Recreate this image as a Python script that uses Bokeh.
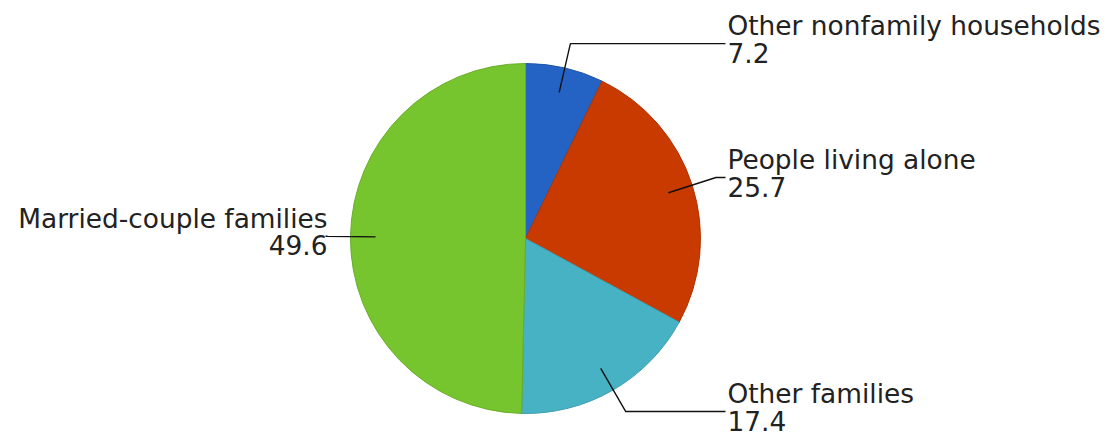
import math
from bokeh.plotting import figure
from bokeh.models import Range1d, ColumnDataSource
from bokeh.core.properties import value
from bokeh.embed import file_html
from bokeh.resources import INLINE

categories = ["Other nonfamily households", "People living alone", "Other families", "Married-couple families"]
values = [7.2, 25.7, 17.4, 49.6]
value_labels = ["7.2", "25.7", "17.4", "49.6"]
colors = ["#2462C4", "#C93A00", "#48B2C5", "#76C52E"]
edge_colors = ["#1f55a8", "#b03300", "#3f9fb0", "#68ad28"]

W, H = 1111, 434
p = figure(width=W, height=H, x_range=Range1d(0, W), y_range=Range1d(0, H),
           output_backend="svg", toolbar_location=None, min_border=0,
           x_axis_type=None, y_axis_type=None)
p.grid.visible = False
p.outline_line_color = None
p.background_fill_color = "white"
p.border_fill_color = "white"

cx, cy, R = 525, 196, 175
total = sum(values)
starts, ends, mids = [], [], []
cum = 0.0
for v in values:
    starts.append(math.pi / 2 - 2 * math.pi * cum / total)
    ends.append(math.pi / 2 - 2 * math.pi * (cum + v) / total)
    mids.append(math.pi / 2 - 2 * math.pi * (cum + v / 2) / total)
    cum += v

src = ColumnDataSource(dict(start=starts, end=ends, color=colors, edge=edge_colors, cat=categories, val=values))
p.wedge(x=cx, y=cy, radius=R, start_angle="start", end_angle="end", direction="clock",
        fill_color="color", line_color="edge", line_width=1, source=src)

xs, ys = [], []
lx, ly, la, vy = [], [], [], []
for m in mids:
    x1, y1 = cx + 150 * math.cos(m), cy + 150 * math.sin(m)
    x2, y2 = cx + 200 * math.cos(m), cy + 200 * math.sin(m)
    if math.cos(m) > 0.01:
        x3, tx, al = 725, 727, "left"
    else:
        x3, tx, al = 327, 327, "right"
    xs.append([x1, x2, x3])
    ys.append([y1, y2, y2])
    lx.append(tx)
    ly.append(y2 + 18)
    vy.append(y2 - 9)
    la.append(al)

p.multi_line(xs=xs, ys=ys, line_color="#111111", line_width=1.4)

tsrc = ColumnDataSource(dict(x=lx, y=ly, vy=vy, cat=categories, lab=value_labels, align=la))
p.text(x="x", y="y", text="cat", text_align="align", text_baseline="alphabetic",
       text_font=value("DejaVu Sans"), text_font_size="26.4px", text_color="#222222", source=tsrc)
p.text(x="x", y="vy", text="lab", text_align="align", text_baseline="alphabetic",
       text_font=value("DejaVu Sans"), text_font_size="26.4px", text_color="#222222", source=tsrc)

open("out.html", "w").write(file_html(p, INLINE))
